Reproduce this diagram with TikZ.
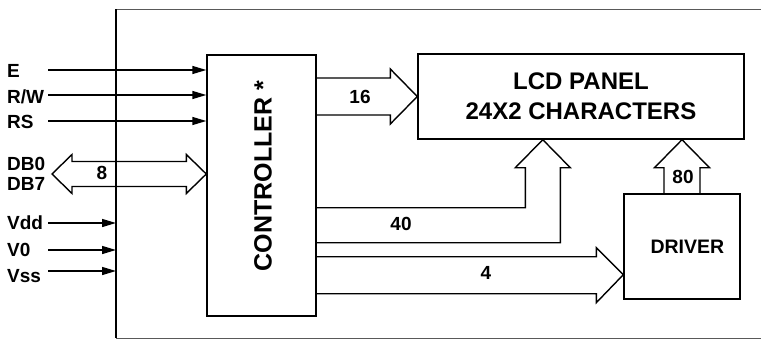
\documentclass[tikz,border=0pt]{standalone}
\usepackage{fontspec}
\setmainfont{Liberation Sans}
\usepackage{tikz}
\usetikzlibrary{arrows.meta,positioning,calc}

\begin{document}
\begin{tikzpicture}[x=1pt,y=-1pt,
   b/.style={draw,line width=1.4pt,inner sep=0pt,align=center},
   sig/.style={line width=1.4pt,-{Triangle[length=14pt,width=8pt]}},
   bus/.style={line width=1.4pt,line join=miter},
   lbl/.style={inner sep=0pt,font=\fontsize{19}{21}\selectfont\bfseries}]
  \useasboundingbox (0,0) rectangle (761,340);
  % module frame
  \coordinate (fTL) at (116,9);
  \coordinate (fBL) at (116,338);
  \coordinate (fTR) at (765,9);
  \coordinate (fBR) at (765,338);
  \draw[line width=0.8pt,black!65] (fTR) -- (fTL) (fBL) -- (fBR);
  \draw[line width=1.4pt] (fTL) -- (fBL);

  % blocks
  \node[b,minimum width=109pt,minimum height=261pt] (ctrl) at (261.5,185.5) {};
  \node[lbl,rotate=90,font=\fontsize{25}{27}\selectfont\bfseries] (ctrltxt) at (263,176) {CONTROLLER *};
  \node[b,minimum width=326pt,minimum height=85pt,
        font=\fontsize{24}{30}\selectfont\bfseries] (lcd) at (581,96.5) {LCD PANEL\\24X2 CHARACTERS};
  \node[b,minimum width=116pt,minimum height=105pt,
        font=\fontsize{19.5}{21}\selectfont\bfseries] (drv) at (682,246.5) {\ \ DRIVER};

  % control and supply pins
  \foreach \t/\n/\y/\l in {E/e/70/77,{R/W}/rw/95/103,RS/rs/121/128}{
    \node[lbl,anchor=base west] (p\n) at (7,\l) {\t};
    \coordinate (s\n) at (48,\y);
    \draw[sig] (s\n) -- (s\n -| ctrl.west);
  }
  \foreach \t/\n/\y/\l in {Vdd/vdd/223/229,V0/vo/250/256,Vss/vss/271/282}{
    \node[lbl,anchor=base west] (p\n) at (7,\l) {\t};
    \coordinate (s\n) at (48,\y);
    \draw[sig] (s\n) -- (s\n -| fTL);
  }

  % data bus
  \node[lbl,anchor=base west] (pdb0) at (7,170) {DB0};
  \node[lbl,anchor=base west] (pdb7) at (7,190) {DB7};
  \coordinate (dbL) at (52,174);
  \coordinate (dbR) at ($(ctrl.west)+(0,-11.5)$);
  \draw[bus] (dbL) -- ($(dbL)+(20,-19.5)$) -- ($(dbL)+(20,-12.5)$)
     -- ($(dbR)+(-20,-12.5)$) -- ($(dbR)+(-20,-19.5)$) -- (dbR)
     -- ($(dbR)+(-20,19.5)$) -- ($(dbR)+(-20,12.5)$)
     -- ($(dbL)+(20,12.5)$) -- ($(dbL)+(20,19.5)$) -- cycle;
  \node[lbl] (n8) at (102,173) {8};

  % controller -> panel, 16
  \coordinate (t16) at (lcd.west);
  \draw[bus] ($(t16 -| ctrl.east)+(0,-18.5)$) -- ($(t16)+(-27,-18.5)$) -- ($(t16)+(-27,-27.5)$)
     -- (t16) -- ($(t16)+(-27,27.5)$) -- ($(t16)+(-27,18.5)$) -- ($(t16 -| ctrl.east)+(0,18.5)$);
  \node[lbl] (n16) at (360,97) {16};

  % controller -> panel, 40
  \coordinate (t40) at ($(lcd.south west)+(125.5,0)$);
  \draw[bus] ($(t40 -| ctrl.east)+(0,68)$) -- ($(t40)+(-17.5,68)$) -- ($(t40)+(-17.5,28)$)
     -- ($(t40)+(-27.5,28)$) -- (t40) -- ($(t40)+(27.5,28)$) -- ($(t40)+(17.5,28)$)
     -- ($(t40)+(17.5,103)$) -- ($(t40 -| ctrl.east)+(0,103)$);
  \node[lbl] (n40) at (401,224) {40};

  % controller -> driver, 4
  \coordinate (t4) at ($(drv.south west)+(0,-25)$);
  \draw[bus] ($(t4 -| ctrl.east)+(0,-18)$) -- ($(t4)+(-27,-18)$) -- ($(t4)+(-27,-27)$)
     -- (t4) -- ($(t4)+(-27,28)$) -- ($(t4)+(-27,19)$) -- ($(t4 -| ctrl.east)+(0,19)$);
  \node[lbl] (n4) at (486,273) {4};

  % driver -> panel, 80
  \coordinate (t80) at (drv.north |- lcd.south);
  \draw[bus] ($(drv.north)+(-18,0)$) -- ($(t80)+(-18,28)$) -- ($(t80)+(-27.5,28)$)
     -- (t80) -- ($(t80)+(27.5,28)$) -- ($(t80)+(18,28)$) -- ($(drv.north)+(18,0)$);
  \node[lbl] (n80) at (683,177) {80};
\end{tikzpicture}
\end{document}
